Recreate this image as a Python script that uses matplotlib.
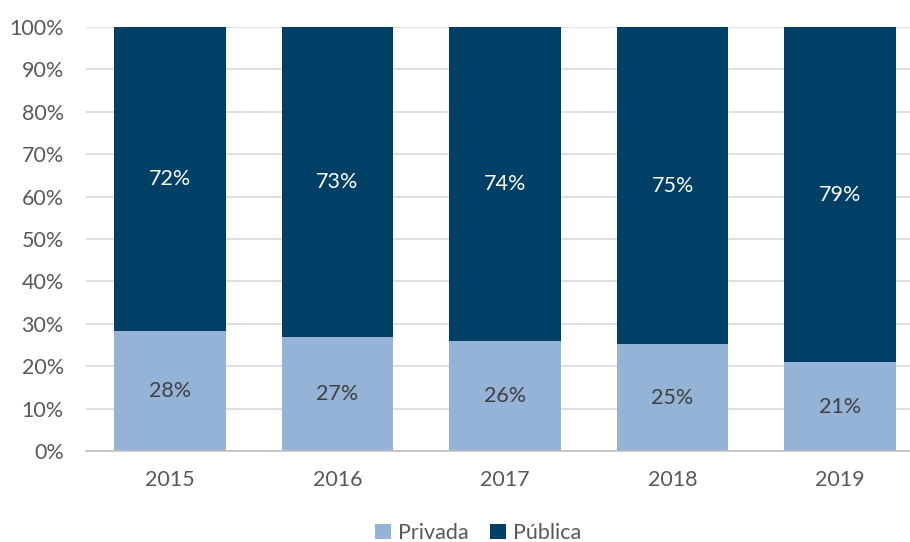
import numpy as np
import matplotlib.pyplot as plt

plt.rcParams['font.family'] = ['Lato', 'DejaVu Sans']

years = ["2015", "2016", "2017", "2018", "2019"]
privada = np.array([28.4, 26.9, 25.9, 25.2, 20.9])
publica = 100 - privada

c_priv = "#95B3D7"
c_pub = "#003F66"

fig = plt.figure(figsize=(9.1, 5.42), dpi=100)
ax = fig.add_axes([86 / 910, 91 / 542, (924 - 86) / 910, (451 - 27) / 542])

x = np.arange(len(years))
b1 = ax.bar(x, privada, width=0.667, color=c_priv, label="Privada", zorder=2)
b2 = ax.bar(x, publica, width=0.667, bottom=privada, color=c_pub, label="Pública", zorder=2)

for i in range(len(years)):
    ax.text(x[i], privada[i] / 2, f"{round(privada[i])}%", ha="center", va="center",
            fontsize=15.5, color="#404040", zorder=3)
    ax.text(x[i], privada[i] + publica[i] / 2, f"{round(publica[i])}%", ha="center",
            va="center", fontsize=15.5, color="white", zorder=3)

ax.set_xlim(-0.5, len(years) - 0.5)
ax.set_ylim(0, 100)
ax.set_yticks(np.arange(0, 101, 10))
ax.set_yticklabels([f"{v}%" for v in range(0, 101, 10)])
ax.set_xticks(x)
ax.set_xticklabels(years)
ax.tick_params(axis="both", length=0, labelsize=15.5, labelcolor="#595959")
ax.tick_params(axis="x", pad=14)
ax.tick_params(axis="y", pad=16)
ax.yaxis.grid(True, color="#D9D9D9", linewidth=1.2, zorder=0)
for s in ["top", "right", "left"]:
    ax.spines[s].set_visible(False)
ax.spines["bottom"].set_color("#BFBFBF")
ax.spines["bottom"].set_linewidth(1.2)
ax.spines["bottom"].set_zorder(3)

leg = fig.legend(handles=[b1, b2], loc="center", bbox_to_anchor=(478 / 910, 1 - 533 / 542),
                 ncol=2, frameon=False, fontsize=15.5, handlelength=0.75, handleheight=0.75,
                 handletextpad=0.3, columnspacing=1.0)
for t in leg.get_texts():
    t.set_color("#595959")

fig.savefig("out.png", dpi=100)
